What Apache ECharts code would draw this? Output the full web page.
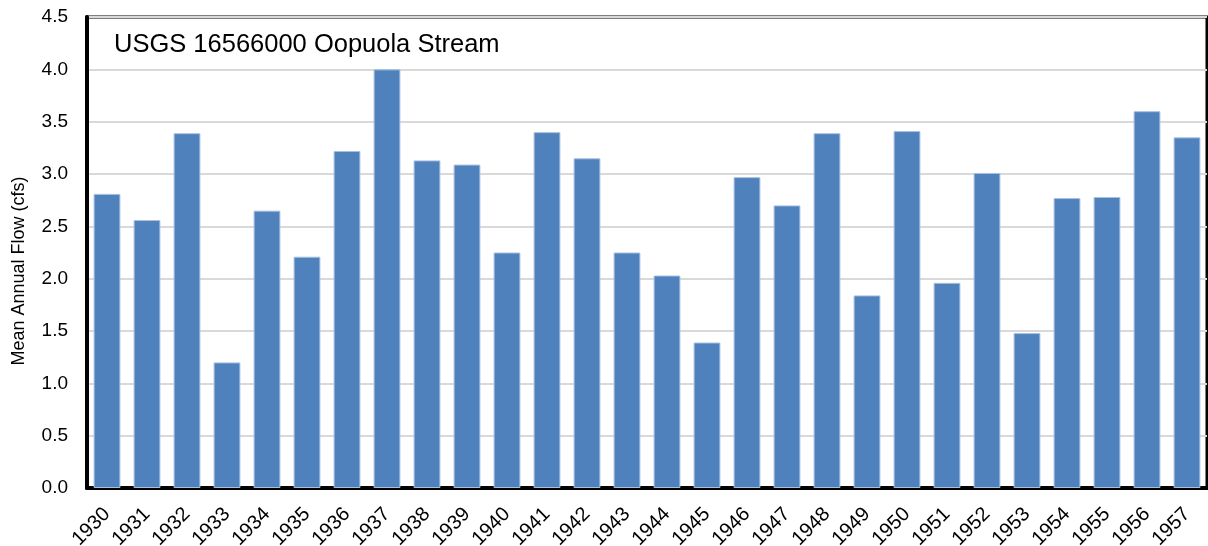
<!DOCTYPE html>
<html>
<head>
<meta charset="utf-8">
<script src="https://cdn.jsdelivr.net/npm/echarts@6/dist/echarts.min.js"></script>
<style>
  html, body { margin: 0; padding: 0; background: #fff; }
  #main { width: 1208px; height: 546px; }
</style>
</head>
<body>
<div id="main"></div>
<script>
var myChart = echarts.init(document.getElementById('main'));

var years = ['1930', '1931', '1932', '1933', '1934', '1935', '1936', '1937', '1938', '1939',
  '1940', '1941', '1942', '1943', '1944', '1945', '1946', '1947', '1948', '1949',
  '1950', '1951', '1952', '1953', '1954', '1955', '1956', '1957'];

var meanFlow = [2.81, 2.56, 3.39, 1.20, 2.65, 2.21, 3.22, 4.00, 3.13, 3.09,
  2.25, 3.40, 3.15, 2.25, 2.03, 1.39, 2.97, 2.70, 3.39, 1.84,
  3.41, 1.96, 3.01, 1.48, 2.77, 2.78, 3.60, 3.35];

var yTicks = ['0.0', '0.5', '1.0', '1.5', '2.0', '2.5', '3.0', '3.5', '4.0', '4.5'];

var font = 'Arial, "Liberation Sans", sans-serif';

var option = {
  animation: false,
  grid: {
    left: 87, right: 1, top: 17, bottom: 58,
    outerBoundsMode: 'none',
    containLabel: false,
    show: true,
    borderColor: '#000',
    borderWidth: 3
  },
  graphic: [{
    type: 'text',
    x: 19, y: 271,
    rotation: Math.PI / 2,
    style: {
      text: 'Mean Annual Flow (cfs)',
      font: '18px ' + font,
      fill: '#000',
      align: 'center',
      verticalAlign: 'middle'
    }
  }, {
    type: 'text',
    x: 114, y: 45,
    style: {
      text: 'USGS 16566000 Oopuola Stream',
      font: '25.5px ' + font,
      fill: '#000',
      align: 'left',
      verticalAlign: 'middle'
    }
  }],
  xAxis: {
    type: 'category',
    data: years,
    axisLine: { lineStyle: { color: '#000', width: 4 } },
    axisTick: { show: false },
    axisLabel: {
      rotate: 45,
      color: '#000',
      fontSize: 20,
      fontFamily: font,
      margin: 23
    }
  },
  yAxis: {
    type: 'value',
    min: 0, max: 4.5, interval: 0.5,
    axisLine: { show: true, lineStyle: { color: '#000', width: 4 } },
    axisTick: { show: false },
    splitLine: { lineStyle: { color: '#d9d9d9', width: 2 } },
    axisLabel: {
      color: '#000',
      fontSize: 19,
      fontFamily: font,
      margin: 19,
      formatter: function (v) { return yTicks[Math.round(v / 0.5)]; }
    }
  },
  series: [{
    type: 'bar',
    data: meanFlow,
    barWidth: '67%',
    itemStyle: {
      color: '#4f81bd',
      borderColor: '#a8c0e0',
      borderWidth: 1
    }
  }]
};
myChart.setOption(option);
</script>
</body>
</html>
